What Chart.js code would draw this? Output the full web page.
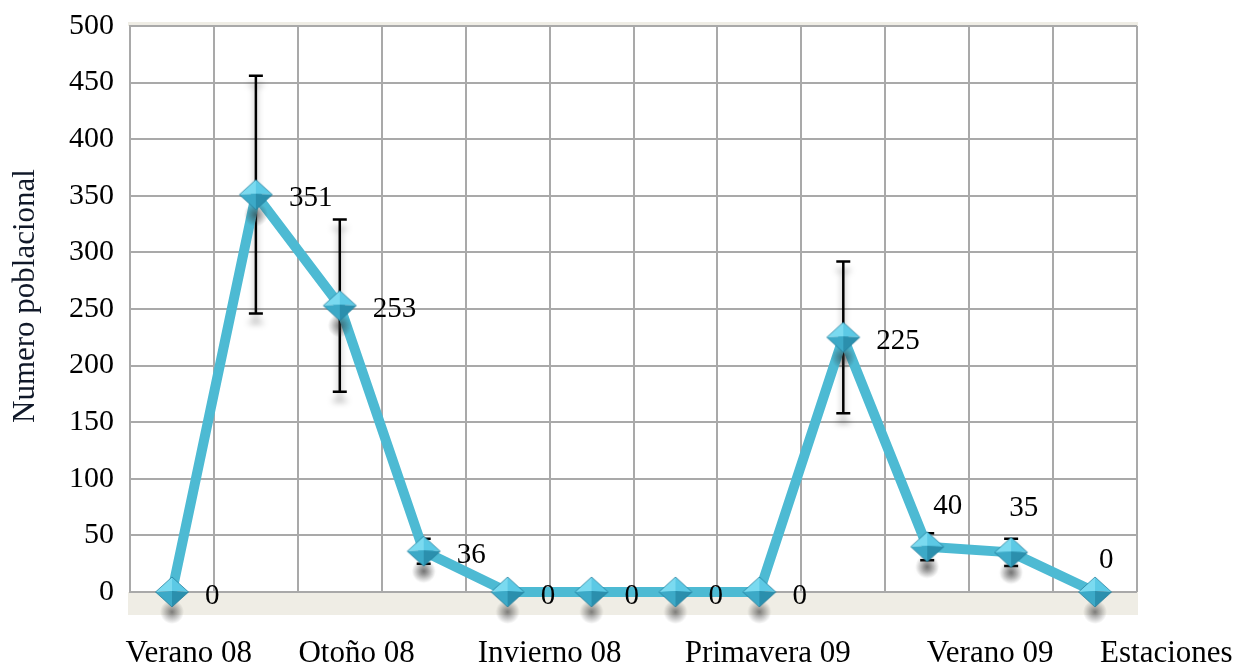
<!DOCTYPE html>
<html>
<head>
<meta charset="utf-8">
<script src="https://cdn.jsdelivr.net/npm/chart.js@4/dist/chart.umd.min.js"></script>
<style>
  html, body { margin: 0; padding: 0; background: #ffffff; }
  #wrap { width: 1243px; height: 669px; position: relative; }
</style>
</head>
<body>
<div id="wrap"><canvas id="c" width="1243" height="669"></canvas></div>
<script>
// ---- data ----
const categories = ['1', '2', '3', '4', '5', '6', '7', '8', '9', '10', '11', '12'];
const values = [0, 351, 253, 36, 0, 0, 0, 0, 225, 40, 35, 0];
const errors = [0, 105, 76, 11, 0, 0, 0, 0, 67, 12, 12, 0];
const seasonLabels = ['Verano 08', 'Otoño 08', 'Invierno 08', 'Primavera 09', 'Verano 09', 'Estaciones'];
const seasonAt = [0.2, 2.2, 4.5, 7.1, 9.75, 11.85];
const yMin = 0, yMax = 500, yStep = 50;
const yTitle = 'Numero poblacional';

// ---- marker image (faceted diamond with soft shadow) ----
function makeMarker() {
  const w = 48, h = 84, cx = 24, cy = 42, rx = 16.5, ry = 15;
  const cv = document.createElement('canvas');
  cv.width = w; cv.height = h;
  const g = cv.getContext('2d');
  const sg = g.createRadialGradient(cx, cy + 20, 0, cx, cy + 20, 12);
  sg.addColorStop(0, 'rgba(50,50,50,0.6)');
  sg.addColorStop(1, 'rgba(50,50,50,0)');
  g.fillStyle = sg;
  g.beginPath(); g.ellipse(cx, cy + 20, 12, 12, 0, 0, Math.PI * 2); g.fill();
  const T = [cx, cy - ry], R = [cx + rx, cy], B = [cx, cy + ry], L = [cx - rx, cy], C = [cx, cy - 1];
  const facet = (a, b, c, col) => {
    g.fillStyle = col; g.beginPath();
    g.moveTo(a[0], a[1]); g.lineTo(b[0], b[1]); g.lineTo(c[0], c[1]); g.closePath(); g.fill();
  };
  facet(T, L, C, '#7ADAF0');
  facet(T, R, C, '#5CC9E5');
  facet(L, B, C, '#3CA9C7');
  facet(R, B, C, '#2B8FAD');
  g.strokeStyle = 'rgba(30,120,150,0.7)';
  g.lineWidth = 1;
  g.beginPath();
  g.moveTo(T[0], T[1]); g.lineTo(R[0], R[1]); g.lineTo(B[0], B[1]); g.lineTo(L[0], L[1]); g.closePath();
  g.stroke();
  return cv;
}
const marker = makeMarker();

// ---- plugins ----
const floorPlugin = {
  id: 'floor',
  beforeDraw(chart) {
    const { ctx, chartArea: a } = chart;
    ctx.save();
    ctx.fillStyle = '#EFEDE5';
    ctx.fillRect(a.left - 2, a.bottom, a.right - a.left + 3, 23);
    ctx.fillRect(a.left - 2, a.top - 4, a.right - a.left + 3, 4);
    ctx.restore();
  }
};

const errorBarPlugin = {
  id: 'errbars',
  beforeDatasetsDraw(chart) {
    const { ctx, scales: { x, y } } = chart;
    ctx.save();
    ctx.strokeStyle = '#000';
    ctx.lineWidth = 2.5;
    ctx.shadowColor = 'rgba(0,0,0,0.35)';
    ctx.shadowBlur = 6;
    ctx.shadowOffsetY = 9;
    values.forEach((v, i) => {
      const e = errors[i];
      if (!e) return;
      const px = x.getPixelForValue(i);
      const yt = y.getPixelForValue(v + e), yb = y.getPixelForValue(v - e);
      ctx.beginPath();
      ctx.moveTo(px, yt); ctx.lineTo(px, yb);
      ctx.moveTo(px - 7, yt); ctx.lineTo(px + 7, yt);
      ctx.moveTo(px - 7, yb); ctx.lineTo(px + 7, yb);
      ctx.stroke();
    });
    ctx.restore();
  }
};

const textPlugin = {
  id: 'texts',
  afterDraw(chart, args, opts) {
    const { ctx, scales: { x, y } } = chart;
    ctx.save();
    ctx.fillStyle = '#000';
    ctx.font = '29px "Liberation Serif", "Times New Roman", serif';
    ctx.textAlign = 'left';
    ctx.textBaseline = 'middle';
    values.forEach((v, i) => {
      const off = opts.labelOffsets[i] || opts.defaultOffset;
      ctx.fillText(String(v), x.getPixelForValue(i) + off[0], y.getPixelForValue(v) + off[1]);
    });
    ctx.font = '31px "Liberation Serif", "Times New Roman", serif';
    ctx.textAlign = 'center';
    ctx.textBaseline = 'alphabetic';
    const step = x.getPixelForValue(1) - x.getPixelForValue(0);
    seasonLabels.forEach((s, k) => {
      const base = Math.floor(seasonAt[k]);
      const px = x.getPixelForValue(base) + (seasonAt[k] - base) * step;
      ctx.fillText(s, px, chart.chartArea.bottom + 70);
    });
    ctx.font = '31px "Liberation Serif", "Times New Roman", serif';
    ctx.translate(26, (chart.chartArea.top + chart.chartArea.bottom) / 2 - 13);
    ctx.rotate(-Math.PI / 2);
    ctx.textAlign = 'center';
    ctx.textBaseline = 'middle';
    ctx.fillStyle = '#101828';
    ctx.fillText(yTitle, 0, 0);
    ctx.restore();
  }
};

const gridColor = '#A9A9A9';

new Chart(document.getElementById('c'), {
  type: 'line',
  data: {
    labels: categories,
    datasets: [{
      data: values,
      borderColor: '#4DBAD3',
      borderWidth: 10,
      borderJoinStyle: 'round',
      tension: 0,
      clip: false,
      pointStyle: marker,
      pointRadius: 16,
      pointHoverRadius: 16
    }]
  },
  options: {
    responsive: false,
    animation: false,
    devicePixelRatio: 1,
    layout: { padding: { left: 0, top: 25, right: 106, bottom: 77 } },
    plugins: {
      legend: { display: false },
      tooltip: { enabled: false },
      texts: {
        defaultOffset: [33, 4],
        labelOffsets: { 9: [6, -40], 10: [-2, -44], 11: [4, -32] }
      }
    },
    scales: {
      x: {
        offset: true,
        grid: { offset: true, color: gridColor, lineWidth: 2, drawTicks: false },
        border: { display: false },
        ticks: { display: false },
        afterFit(s) { s.height = 0; }
      },
      y: {
        min: yMin, max: yMax,
        grid: { color: gridColor, lineWidth: 2, drawTicks: false },
        border: { color: gridColor, width: 2 },
        ticks: {
          stepSize: yStep,
          padding: 16,
          color: '#000',
          font: { family: '"Liberation Serif", "Times New Roman", serif', size: 30, lineHeight: 0.5 }
        },
        afterFit(s) { s.width = 130; }
      }
    }
  },
  plugins: [floorPlugin, errorBarPlugin, textPlugin]
});
</script>
</body>
</html>
